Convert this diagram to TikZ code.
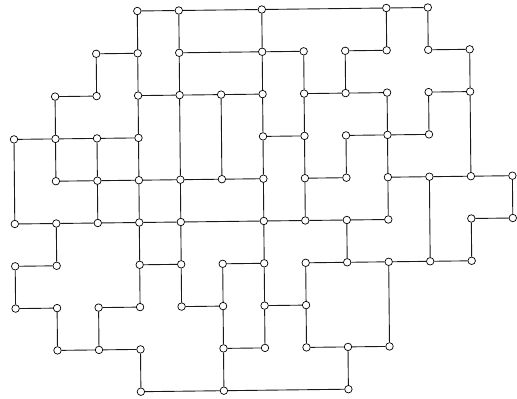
\documentclass[tikz,border=0pt]{standalone}
\usepackage{tikz}

\begin{document}
\begin{tikzpicture}[x={(41.5pt,0.5pt)},y={(0.4pt,-42.3pt)},line width=0.9pt]
  \tikzstyle{vtx}=[draw,circle,fill=white,inner sep=0pt,minimum size=7.5pt,line width=0.7pt]
  \tikzstyle{wire}=[draw,black!90]
  \useasboundingbox (-12.8pt,12.5pt) rectangle (504.2pt,-386.5pt);

  % vertices, column/row
  \foreach \c/\r in {3/0,4/0,6/0,9/0,10/0,
      2/1,3/1,4/1,6/1,7/1,8/1,9/1,10/1,11/1,
      1/2,2/2,3/2,4/2,5/2,6/2,7/2,8/2,9/2,10/2,11/2,
      0/3,1/3,2/3,3/3,6/3,7/3,8/3,9/3,10/3,
      1/4,2/4,3/4,4/4,5/4,6/4,7/4,8/4,9/4,10/4,11/4,12/4,
      0/5,1/5,2/5,3/5,4/5,6/5,7/5,8/5,9/5,11/5,12/5,
      0/6,1/6,3/6,4/6,5/6,6/6,7/6,8/6,9/6,10/6,11/6,
      0/7,1/7,2/7,3/7,4/7,5/7,6/7,7/7,
      1/8,2/8,3/8,5/8,6/8,7/8,8/8,9/8,
      3/9,5/9,8/9}
    \node[vtx] (v\c-\r) at (\c,\r) {};

  % horizontal links, row/from/to
  \foreach \r/\a/\b in {0/3/4,0/4/6,0/6/9,0/9/10,
      1/2/3,1/4/6,1/6/7,1/8/9,1/10/11,
      2/1/2,2/3/4,2/4/5,2/5/6,2/7/8,2/8/9,2/10/11,
      3/0/1,3/1/2,3/2/3,3/6/7,3/8/9,3/9/10,
      4/1/2,4/2/3,4/3/4,4/4/5,4/5/6,4/7/8,4/9/10,4/10/11,4/11/12,
      5/0/1,5/1/2,5/2/3,5/3/4,5/4/6,5/6/7,5/7/8,5/8/9,5/11/12,
      6/0/1,6/3/4,6/5/6,6/7/8,6/8/9,6/9/10,6/10/11,
      7/0/1,7/2/3,7/4/5,7/6/7,
      8/1/2,8/2/3,8/5/6,8/7/8,8/8/9,
      9/3/5,9/5/8}
    \draw[wire] (v\a-\r) -- (v\b-\r);

  % vertical links, column/from/to
  \foreach \c/\a/\b in {0/3/5,0/6/7,
      1/2/3,1/3/4,1/5/6,1/7/8,
      2/1/2,2/3/4,2/4/5,2/7/8,
      3/0/1,3/1/2,3/2/3,3/3/4,3/4/5,3/5/6,3/6/7,3/8/9,
      4/0/1,4/1/2,4/2/4,4/4/5,4/5/6,4/6/7,
      5/2/4,5/6/7,5/7/8,5/8/9,
      6/0/1,6/1/2,6/2/3,6/3/4,6/4/5,6/5/6,6/6/7,6/7/8,
      7/1/2,7/2/3,7/3/4,7/4/5,7/6/7,7/7/8,
      8/1/2,8/3/4,8/5/6,8/8/9,
      9/0/1,9/2/3,9/3/4,9/4/5,9/6/8,
      10/0/1,10/2/3,10/4/6,
      11/1/2,11/2/4,11/5/6,
      12/4/5}
    \draw[wire] (v\c-\a) -- (v\c-\b);
\end{tikzpicture}
\end{document}
